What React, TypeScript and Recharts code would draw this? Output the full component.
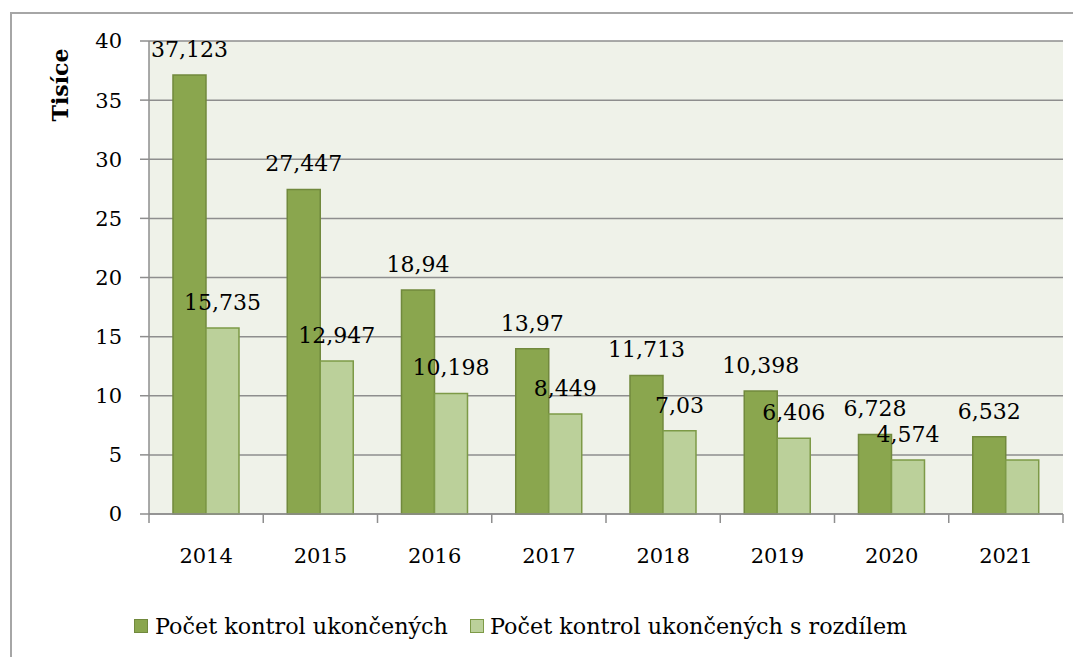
import React from 'react';
import { BarChart, Bar, XAxis, YAxis, CartesianGrid, Legend, LabelList, Label } from 'recharts';

// hodnoty v tisících
const years = ['2014', '2015', '2016', '2017', '2018', '2019', '2020', '2021'];
const ukoncene = [37.123, 27.447, 18.94, 13.97, 11.713, 10.398, 6.728, 6.532];
const sRozdilem = [15.735, 12.947, 10.198, 8.449, 7.03, 6.406, 4.574, 4.574];
// poslední hodnota druhé řady nemá v grafu popisek
const sRozdilemPopisky = ['15,735', '12,947', '10,198', '8,449', '7,03', '6,406', '4,574', ''];
const yTicks = [0, 5, 10, 15, 20, 25, 30, 35, 40];

const SERIES1 = 'Počet kontrol ukončených';
const SERIES2 = 'Počet kontrol ukončených s rozdílem';

const data = years.map((year, i) => ({
  year,
  ukoncene: ukoncene[i],
  sRozdilem: sRozdilem[i],
  popisek1: String(ukoncene[i]).replace('.', ','),
  popisek2: sRozdilemPopisky[i],
}));

const FONT = '"DejaVu Serif", serif';
const GRID = '#8e8e8e';

const XTick = (props: any) => {
  const { x, y, payload, index } = props;
  const half = payload && payload.offset ? payload.offset : 57;
  return (
    <g>
      <line x1={x - half} x2={x - half} y1={y} y2={y + 9} stroke={GRID} strokeWidth={1.5} />
      {index === years.length - 1 && (
        <line x1={x + half} x2={x + half} y1={y} y2={y + 9} stroke={GRID} strokeWidth={1.5} />
      )}
      <text x={x} y={y + 49} textAnchor="middle" fontFamily={FONT} fontSize={21} fill="#000">
        {payload.value}
      </text>
    </g>
  );
};

const LegendContent = () => (
  <div style={{ display: 'flex', alignItems: 'center', paddingLeft: 126, fontFamily: FONT, fontSize: 22.3, color: '#000' }}>
    <span style={{ width: 14, height: 14, background: '#8aa64e', border: '1px solid #71893d', boxSizing: 'border-box', marginRight: 7 }} />
    <span>{SERIES1}</span>
    <span style={{ width: 14, height: 14, background: '#bbd09a', border: '1px solid #7d9a47', boxSizing: 'border-box', marginLeft: 22, marginRight: 6 }} />
    <span>{SERIES2}</span>
  </div>
);

export default function App() {
  return (
    <div style={{ position: 'relative', width: 1073, height: 649, overflow: 'hidden' }}>
      <div
        style={{
          position: 'absolute',
          left: 2,
          top: 4,
          width: 1200,
          height: 800,
          border: '2px solid #a6a6a6',
        }}
      />
      <div style={{ position: 'absolute', left: 0, top: 0 }}>
        <BarChart
          width={1073}
          height={649}
          data={data}
          margin={{ top: 33, right: 18, left: 0, bottom: 14 }}
          barCategoryGap="21%"
          barGap={0}
        >
          <CartesianGrid vertical={false} stroke={GRID} strokeWidth={1.5} fill="#eff2e9" fillOpacity={1} />
          <XAxis
            dataKey="year"
            height={99}
            axisLine={{ stroke: GRID, strokeWidth: 1.5 }}
            tickLine={false}
            tickSize={0}
            tickMargin={0}
            tick={<XTick />}
            interval={0}
          />
          <YAxis
            width={141}
            domain={[0, 40]}
            ticks={yTicks}
            interval={0}
            axisLine={{ stroke: GRID, strokeWidth: 1.5 }}
            tickLine={{ stroke: GRID, strokeWidth: 1.5 }}
            tickSize={9}
            tickMargin={18}
            tick={{ fontFamily: FONT, fontSize: 21, fill: '#000' }}
          >
            <Label
              content={(p: any) => {
                const vb = p.viewBox || { x: 0, y: 33 };
                const cx = vb.x + 52;
                const cy = vb.y + 44;
                return (
                  <text
                    x={cx}
                    y={cy}
                    transform={`rotate(-90 ${cx} ${cy})`}
                    textAnchor="middle"
                    dominantBaseline="central"
                    fontFamily={FONT}
                    fontWeight="bold"
                    fontSize={22}
                    fill="#000"
                  >
                    Tisíce
                  </text>
                );
              }}
            />
          </YAxis>
          <Legend verticalAlign="bottom" height={30} wrapperStyle={{ left: 0, width: 1073 }} content={<LegendContent />} />
          <Bar dataKey="ukoncene" name={SERIES1} fill="#8aa64e" stroke="#71893d" strokeWidth={1.5} isAnimationActive={false}>
            <LabelList dataKey="popisek1" position="top" offset={18} fontFamily={FONT} fontSize={22} fill="#000" />
          </Bar>
          <Bar dataKey="sRozdilem" name={SERIES2} fill="#bbd09a" stroke="#7d9a47" strokeWidth={1.5} isAnimationActive={false}>
            <LabelList dataKey="popisek2" position="top" offset={18} fontFamily={FONT} fontSize={22} fill="#000" />
          </Bar>
        </BarChart>
      </div>
    </div>
  );
}
